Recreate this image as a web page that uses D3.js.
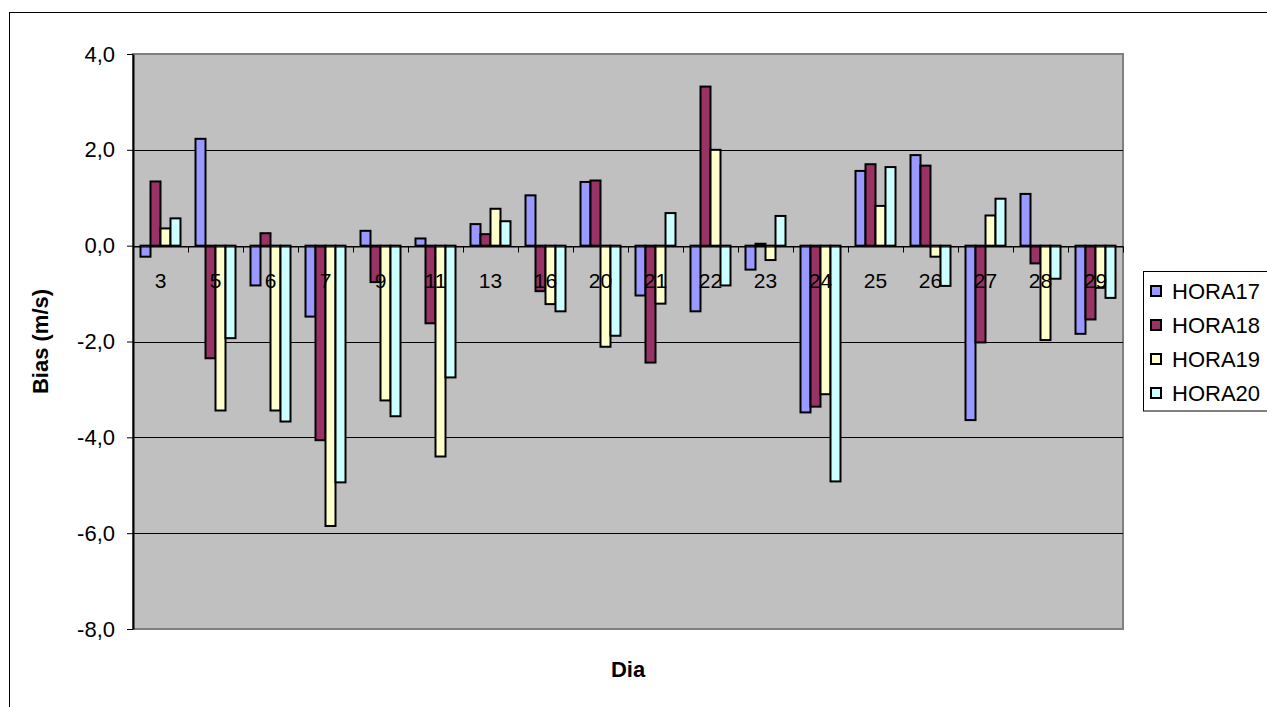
<!DOCTYPE html>
<html>
<head>
<meta charset="utf-8">
<script src="https://cdn.jsdelivr.net/npm/d3@7/dist/d3.min.js"></script>
<style>
  html, body { margin: 0; padding: 0; background: #fff; }
  svg { display: block; font-family: "Liberation Sans", Arial, sans-serif; }
</style>
</head>
<body>
<svg id="chart" width="1267" height="707"></svg>
<script>
const categories = ["3","5","6","7","9","11","13","16","20","21","22","23","24","25","26","27","28","29"];
const seriesNames = ["HORA17","HORA18","HORA19","HORA20"];
const hora17 = [-0.23, 2.23, -0.83, -1.48, 0.31, 0.15, 0.45, 1.05, 1.33, -1.04, -1.37, -0.50, -3.48, 1.56, 1.89, -3.64, 1.08, -1.84];
const hora18 = [1.34, -2.35, 0.26, -4.06, -0.76, -1.62, 0.24, -0.95, 1.36, -2.44, 3.32, 0.04, -3.36, 1.70, 1.67, -2.02, -0.37, -1.54];
const hora19 = [0.36, -3.44, -3.44, -5.85, -3.23, -4.40, 0.77, -1.22, -2.11, -1.21, 2.00, -0.30, -3.10, 0.83, -0.23, 0.63, -1.97, -0.88];
const hora20 = [0.57, -1.93, -3.67, -4.94, -3.56, -2.75, 0.51, -1.37, -1.88, 0.68, -0.83, 0.62, -4.92, 1.64, -0.84, 0.98, -0.69, -1.09];
const seriesColors = ["#9999FF", "#993366", "#FFFFCC", "#CCFFFF"];
const yTicks = [4, 2, 0, -2, -4, -6, -8];
const yDomain = [-8, 4];
const xTitle = "Dia";
const yTitle = "Bias (m/s)";

const seriesValues = [hora17, hora18, hora19, hora20];
const svg = d3.select("#chart");

// outer chart border
svg.append("rect").attr("x", 9.5).attr("y", 12.5).attr("width", 1300).attr("height", 800)
  .attr("fill", "#fff").attr("stroke", "#000").attr("stroke-width", 1);

const plot = { left: 133, right: 1123, top: 54, bottom: 629 };

const x = d3.scaleBand().domain(categories).range([plot.left, plot.right]).paddingInner(0).paddingOuter(0);
const xInner = d3.scaleBand().domain(seriesNames).range([7.5, x.bandwidth() - 7.5]).padding(0);
const y = d3.scaleLinear().domain(yDomain).range([plot.bottom, plot.top]);

const fmt = v => d3.format(".1f")(v).replace(".", ",").replace("−", "-");

// plot area
svg.append("rect").attr("x", plot.left).attr("y", plot.top)
  .attr("width", plot.right - plot.left).attr("height", plot.bottom - plot.top)
  .attr("fill", "#C0C0C0").attr("stroke", "#808080").attr("stroke-width", 2);

// gridlines
svg.append("g").selectAll("line").data(yTicks.filter(t => t !== yDomain[0] && t !== yDomain[1])).join("line")
  .attr("x1", plot.left).attr("x2", plot.right)
  .attr("y1", d => Math.round(y(d)) + 0.5).attr("y2", d => Math.round(y(d)) + 0.5)
  .attr("stroke", "#000").attr("stroke-width", 1);

// bars
const rows = [];
categories.forEach((c, i) => seriesNames.forEach((s, j) => rows.push({ c, s, j, v: seriesValues[j][i] })));
svg.append("g").selectAll("rect").data(rows).join("rect")
  .attr("x", d => x(d.c) + xInner(d.s))
  .attr("width", xInner.bandwidth())
  .attr("y", d => y(Math.max(0, d.v)))
  .attr("height", d => Math.abs(y(d.v) - y(0)))
  .attr("fill", d => seriesColors[d.j])
  .attr("stroke", "#000").attr("stroke-width", 2);

// x axis at zero
const zeroY = Math.round(y(0)) + 0.5;
const xAxis = d3.axisBottom(x).tickSize(0).tickSizeOuter(0).tickPadding(0);
const gx = svg.append("g").attr("transform", `translate(0,${zeroY})`).call(xAxis);
gx.select(".domain").attr("stroke", "#000").attr("stroke-width", 1);
gx.selectAll(".tick text").attr("font-size", 21).attr("fill", "#000").attr("dy", null).attr("y", 41);
// category boundary ticks
const boundaries = categories.map(c => x(c)).concat([plot.right]);
svg.append("g").selectAll("line").data(boundaries).join("line")
  .attr("x1", d => Math.round(d) + 0.5).attr("x2", d => Math.round(d) + 0.5)
  .attr("y1", zeroY).attr("y2", zeroY + 6)
  .attr("stroke", "#000").attr("stroke-width", 1);

// y axis
const yAxis = d3.axisLeft(y).tickValues(yTicks).tickFormat(fmt).tickSize(6).tickSizeOuter(0).tickPadding(12);
const gy = svg.append("g").attr("transform", `translate(${plot.left},0)`).call(yAxis);
gy.select(".domain").attr("stroke", "#000").attr("stroke-width", 2);
gy.selectAll(".tick line").attr("stroke", "#000");
gy.selectAll(".tick text").attr("font-size", 22).attr("fill", "#000");

// axis titles
svg.append("text").attr("x", (plot.left + plot.right) / 2).attr("y", 677)
  .attr("text-anchor", "middle").attr("font-weight", "bold").attr("font-size", 22).text(xTitle);
svg.append("text").attr("transform", `translate(48,${(plot.top + plot.bottom) / 2}) rotate(-90)`)
  .attr("text-anchor", "middle").attr("font-weight", "bold").attr("font-size", 22).text(yTitle);

// legend
const lg = svg.append("g");
lg.append("rect").attr("x", 1143.5).attr("y", 271.5).attr("width", 140).attr("height", 139.5)
  .attr("fill", "#fff").attr("stroke", "#000").attr("stroke-width", 1);
const items = lg.selectAll("g.item").data(seriesNames).join("g").attr("class", "item")
  .attr("transform", (d, i) => `translate(0,${291 + i * 34})`);
items.append("rect").attr("x", 1151).attr("y", -5).attr("width", 10).attr("height", 10)
  .attr("fill", (d, i) => seriesColors[i]).attr("stroke", "#000").attr("stroke-width", 2);
items.append("text").attr("x", 1172).attr("y", 0).attr("dy", "0.35em")
  .attr("font-size", 22).attr("fill", "#000").text(d => d);
</script>
</body>
</html>
